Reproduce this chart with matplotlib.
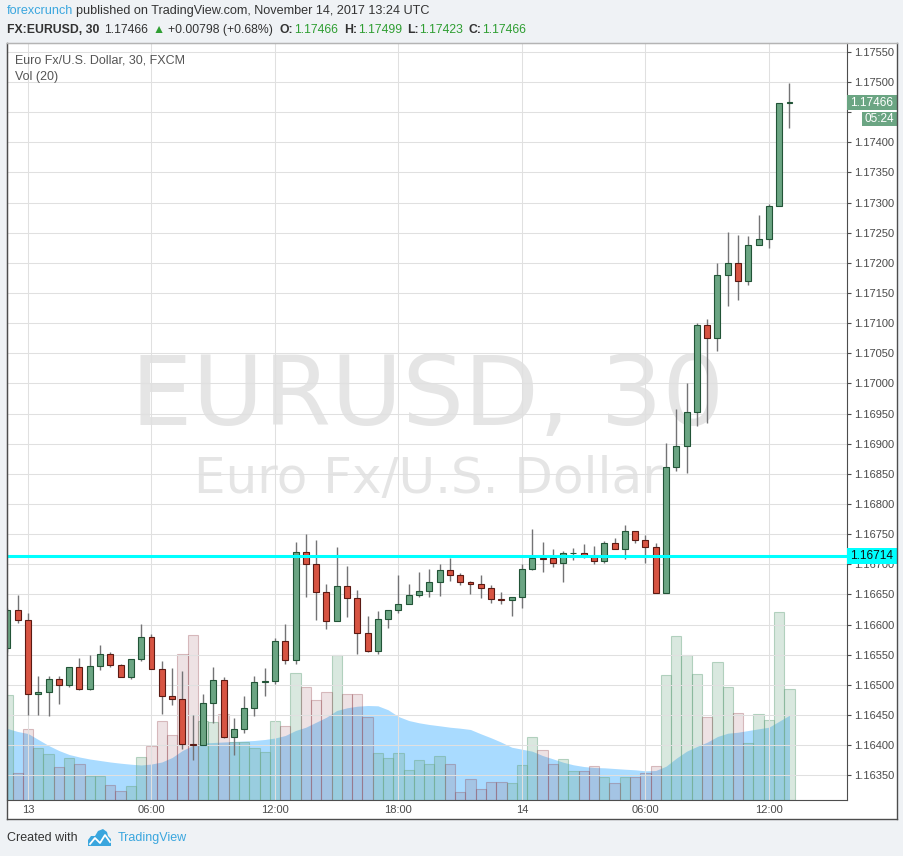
import numpy as np
import matplotlib
matplotlib.use("Agg")
import matplotlib.pyplot as plt
from matplotlib.patches import Rectangle, Polygon
from matplotlib.lines import Line2D
from matplotlib.transforms import blended_transform_factory

plt.rcParams["font.family"] = ["Liberation Sans", "DejaVu Sans"]

# EURUSD 30-minute candles, 12 Nov 23:00 UTC .. 14 Nov 13:00 UTC (FXCM)
opens = [1.16562, 1.16624, 1.16608, 1.16485, 1.16488, 1.16509, 1.16499, 1.16529, 1.16494, 1.16531,
         1.16552, 1.16533, 1.16513, 1.16543, 1.16579, 1.16526, 1.16481, 1.16476, 1.16402, 1.16400,
         1.16470, 1.16508, 1.16413, 1.16427, 1.16461, 1.16504, 1.16506, 1.16572, 1.16541, 1.16721,
         1.16700, 1.16654, 1.16606, 1.16664, 1.16644, 1.16586, 1.16557, 1.16610, 1.16625, 1.16634,
         1.16649, 1.16655, 1.16670, 1.16690, 1.16682, 1.16670, 1.16667, 1.16660, 1.16642, 1.16640,
         1.16645, 1.16692, 1.16710, 1.16710, 1.16703, 1.16718, 1.16719, 1.16713, 1.16705, 1.16735,
         1.16725, 1.16756, 1.16740, 1.16728, 1.16652, 1.16861, 1.16896, 1.16952, 1.17097, 1.17076,
         1.17180, 1.17200, 1.17170, 1.17230, 1.17239, 1.17295, 1.17466]
highs = [1.16628, 1.16649, 1.16619, 1.16515, 1.16515, 1.16515, 1.16529, 1.16545, 1.16550, 1.16566,
         1.16555, 1.16535, 1.16543, 1.16601, 1.16584, 1.16540, 1.16528, 1.16523, 1.16450, 1.16485,
         1.16530, 1.16513, 1.16445, 1.16482, 1.16515, 1.16528, 1.16577, 1.16601, 1.16737, 1.16750,
         1.16741, 1.16667, 1.16729, 1.16697, 1.16657, 1.16615, 1.16622, 1.16625, 1.16682, 1.16667,
         1.16688, 1.16692, 1.16700, 1.16710, 1.16685, 1.16673, 1.16683, 1.16665, 1.16654, 1.16645,
         1.16700, 1.16759, 1.16737, 1.16725, 1.16722, 1.16727, 1.16734, 1.16730, 1.16739, 1.16744,
         1.16765, 1.16756, 1.16749, 1.16736, 1.16902, 1.16957, 1.17000, 1.17100, 1.17107, 1.17199,
         1.17252, 1.17247, 1.17244, 1.17280, 1.17298, 1.17466, 1.17499]
lows = [1.16555, 1.16602, 1.16450, 1.16450, 1.16449, 1.16468, 1.16497, 1.16491, 1.16491, 1.16525,
        1.16529, 1.16513, 1.16509, 1.16540, 1.16526, 1.16452, 1.16466, 1.16394, 1.16375, 1.16400,
        1.16436, 1.16412, 1.16383, 1.16420, 1.16449, 1.16481, 1.16501, 1.16534, 1.16534, 1.16646,
        1.16607, 1.16592, 1.16606, 1.16612, 1.16552, 1.16555, 1.16552, 1.16595, 1.16620, 1.16634,
        1.16646, 1.16645, 1.16648, 1.16673, 1.16665, 1.16650, 1.16644, 1.16636, 1.16635, 1.16615,
        1.16627, 1.16690, 1.16688, 1.16695, 1.16670, 1.16707, 1.16711, 1.16701, 1.16703, 1.16725,
        1.16709, 1.16736, 1.16702, 1.16652, 1.16652, 1.16855, 1.16852, 1.16930, 1.16934, 1.17053,
        1.17128, 1.17139, 1.17164, 1.17230, 1.17225, 1.17295, 1.17423]
closes = [1.16624, 1.16608, 1.16485, 1.16488, 1.16509, 1.16499, 1.16529, 1.16494, 1.16531, 1.16552,
          1.16533, 1.16513, 1.16543, 1.16579, 1.16526, 1.16481, 1.16476, 1.16402, 1.16400, 1.16470,
          1.16508, 1.16413, 1.16427, 1.16461, 1.16504, 1.16506, 1.16572, 1.16541, 1.16721, 1.16700,
          1.16654, 1.16606, 1.16664, 1.16644, 1.16586, 1.16557, 1.16610, 1.16625, 1.16634, 1.16649,
          1.16655, 1.16670, 1.16690, 1.16682, 1.16670, 1.16667, 1.16660, 1.16642, 1.16640, 1.16645,
          1.16692, 1.16710, 1.16709, 1.16703, 1.16718, 1.16719, 1.16713, 1.16705, 1.16735, 1.16725,
          1.16756, 1.16740, 1.16728, 1.16652, 1.16861, 1.16896, 1.16952, 1.17097, 1.17076, 1.17180,
          1.17200, 1.17170, 1.17230, 1.17239, 1.17295, 1.17466, 1.17466]
volumes = [1050, 270, 710, 520, 460, 330, 420, 360, 240, 240,
           150, 90, 140, 430, 540, 790, 650, 1460, 1650, 790,
           780, 860, 580, 580, 520, 480, 790, 740, 1270, 1130,
           1000, 1080, 1450, 1060, 1060, 830, 470, 420, 470, 300,
           400, 360, 440, 360, 80, 210, 110, 180, 180, 170,
           350, 630, 500, 360, 410, 290, 290, 340, 230, 170,
           230, 230, 270, 340, 1250, 1640, 1450, 1260, 830, 1380,
           1130, 870, 570, 860, 800, 1880, 1110]
vol_ma20 = [710, 680, 660, 600, 540, 490, 450, 425, 405, 390,
            375, 363, 353, 345, 355, 375, 420, 490, 540, 565,
            570, 575, 580, 585, 590, 600, 615, 640, 690, 723,
            773, 823, 890, 917, 933, 940, 937, 897, 830, 790,
            767, 750, 737, 723, 713, 700, 657, 617, 573, 523,
            503, 483, 440, 407, 373, 347, 330, 320, 317, 310,
            303, 297, 287, 290, 333, 413, 483, 530, 573, 630,
            663, 673, 690, 707, 723, 783, 843]

time_ticks = [2, 14, 26, 38, 50, 62, 74]
time_labels = ["13", "06:00", "12:00", "18:00", "14", "06:00", "12:00"]
price_ticks = np.round(np.arange(1.1635, 1.17551, 0.0005), 5)
level = 1.16714
countdown = "05:24"

W, H = 904, 856
fig = plt.figure(figsize=(W / 100, H / 100), dpi=100, facecolor="#eff2f5")


def fx(x):
    return x / W


def fy(y):
    return 1 - y / H


# chart box (plot + price scale + time scale)
fig.add_artist(Rectangle((fx(6.7), fy(819)), fx(897) - fx(6.7), fy(42.7) - fy(819),
                         transform=fig.transFigure, facecolor="white", edgecolor="none", zorder=-1))
fig.add_artist(Line2D([fx(6.7), fx(6.7)], [fy(42.7), fy(819)], color="#4d4d4d", lw=1, zorder=5))
fig.add_artist(Line2D([fx(6.7), fx(897)], [fy(819), fy(819)], color="#4d4d4d", lw=1, zorder=5))
fig.add_artist(Line2D([fx(897), fx(897)], [fy(42.7), fy(819)], color="#4d4d4d", lw=1, zorder=5))
fig.add_artist(Line2D([fx(6.7), fx(897)], [fy(42.7), fy(42.7)], color="#b4b4b4", lw=1, zorder=5))

rect = [fx(6.7), fy(799.5), (846.7 - 6.7) / W, (799.5 - 42.7) / H]
xlim = (-0.07, 81.56)
ylim = (1.163099, 1.175652)

idx = np.arange(len(opens))
o = np.array(opens)
hi = np.array(highs)
lo = np.array(lows)
c = np.array(closes)
vol = np.array(volumes)
up = c >= o

# volume pane (overlay, drawn underneath)
ax_v = fig.add_axes(rect, zorder=1)
ax_v.axis("off")
ax_v.set_xlim(*xlim)
ax_v.set_ylim(0, 7568)
ax_v.text(0.501, 0.4948, "EURUSD, 30", transform=ax_v.transAxes, ha="center", va="baseline",
          fontsize=70, color="#e5e5e5", family="DejaVu Sans", zorder=0)
ax_v.text(0.502, 0.405, "Euro Fx/U.S. Dollar", transform=ax_v.transAxes, ha="center", va="baseline",
          fontsize=36, color="#e5e5e5", family="DejaVu Sans", zorder=0)
ax_v.fill_between(idx, 0, vol_ma20, color="#0496ff", alpha=0.34, lw=0, zorder=1)
ax_v.bar(idx[up], vol[up], width=1.0, color=(0.42, 0.65, 0.51, 0.25),
         edgecolor=(0.42, 0.65, 0.51, 0.45), lw=0.8, zorder=2)
ax_v.bar(idx[~up], vol[~up], width=1.0, color=(0.55, 0.22, 0.25, 0.14),
         edgecolor=(0.55, 0.22, 0.25, 0.3), lw=0.8, zorder=2)

# price pane
ax = fig.add_axes(rect, zorder=2)
ax.set_facecolor("none")
ax.set_xlim(*xlim)
ax.set_ylim(*ylim)
ax.grid(True, color="#e0e0e0", lw=0.75, zorder=0)
ax.set_axisbelow(True)
for side in ["left", "bottom", "right"]:
    ax.spines[side].set_color("#4d4d4d")
ax.spines["top"].set_color("#b4b4b4")

last = closes[-1]
ax.yaxis.tick_right()
# the label right under the live price tag is covered by it, as on the screen
ax.set_yticks(price_ticks, ["" if abs(p - 1.1745) < 1e-6 else f"{p:.5f}" for p in price_ticks])
ax.set_xticks(time_ticks, time_labels)
ax.tick_params(axis="y", length=3, width=0.8, color="#4d4d4d", labelsize=8, labelcolor="#4a4a4a", pad=2)
ax.tick_params(axis="x", length=0, labelsize=8, labelcolor="#4a4a4a", pad=4)

# candles
ax.vlines(idx, lo, hi, color="#737375", lw=1, zorder=3)
body_lo = np.minimum(o, c)
body_h = np.maximum(np.abs(c - o), 0.000004)
ax.bar(idx[up], body_h[up], bottom=body_lo[up], width=0.58, color="#6ba583",
       edgecolor="#225437", lw=0.8, zorder=4)
ax.bar(idx[~up], body_h[~up], bottom=body_lo[~up], width=0.58, color="#d75442",
       edgecolor="#5b1a13", lw=0.8, zorder=4)

# horizontal level
ax.axhline(level, color="#00ffff", lw=2.2, zorder=5)

# price scale labels
trans = blended_transform_factory(ax.transAxes, ax.transData)
ppx = (ylim[1] - ylim[0]) / 756.8
box_w = (897 - 846.7) / 840
ax.add_patch(Rectangle((1.0, last - 7.5 * ppx), box_w, 15 * ppx, transform=trans,
                       facecolor="#6ba583", edgecolor="none", clip_on=False, zorder=6))
ax.text(1.0 + box_w / 2, last, f"{last:.5f}", transform=trans, ha="center", va="center",
        color="white", fontsize=8.5, clip_on=False, zorder=7)
cd_x = (862 - 6.7) / 840
ax.add_patch(Rectangle((cd_x, last - 23.5 * ppx), 1.0 + box_w - cd_x, 14 * ppx, transform=trans,
                       facecolor="#6ba583", edgecolor="none", clip_on=False, zorder=6))
ax.text((cd_x + 1.0 + box_w) / 2, last - 16.5 * ppx, countdown, transform=trans, ha="center",
        va="center", color="white", fontsize=8.5, clip_on=False, zorder=7)
ax.add_patch(Rectangle((1.0, level - 8 * ppx), box_w, 16 * ppx, transform=trans,
                       facecolor="#00ffff", edgecolor="none", clip_on=False, zorder=6))
ax.text(1.0 + box_w / 2, level, f"{level:.5f}", transform=trans, ha="center", va="center",
        color="#111111", fontsize=8.5, clip_on=False, zorder=7)

# legend texts
ax.text(0.0099, 0.977, "Euro Fx/U.S. Dollar, 30, FXCM", transform=ax.transAxes, ha="left",
        va="center", fontsize=9, color="#555555")
ax.text(0.0099, 0.955, "Vol (20)", transform=ax.transAxes, ha="left", va="center",
        fontsize=9, color="#555555")

# header
renderer = fig.canvas.get_renderer()


def draw_run(x, y, pieces, size):
    for text, color, weight, gap in pieces:
        t = fig.text(fx(x), fy(y), text, color=color, fontsize=size, fontweight=weight,
                     ha="left", va="center")
        x += t.get_window_extent(renderer).width + gap


blue = "#3aa6de"
green = "#2f9e32"
dark = "#333333"
draw_run(7, 11, [("forexcrunch", blue, "normal", 3),
                 ("published on TradingView.com, November 14, 2017 13:24 UTC", dark, "normal", 0)], 9.1)
draw_run(7, 30, [("FX:EURUSD, 30", dark, "bold", 5),
                 ("1.17466", dark, "normal", 4),
                 ("\u25b2", green, "normal", 4),
                 ("+0.00798 (+0.68%)", dark, "normal", 6),
                 ("O:", dark, "bold", 1), ("1.17466", green, "normal", 6),
                 ("H:", dark, "bold", 1), ("1.17499", green, "normal", 5),
                 ("L:", dark, "bold", 1), ("1.17423", green, "normal", 5),
                 ("C:", dark, "bold", 1), ("1.17466", green, "normal", 0)], 8.8)

# footer
fig.text(fx(7), fy(838), "Created with", color=dark, fontsize=9, ha="left", va="center")
logo = [(88, 846), (88, 840), (91, 836), (95, 836), (98, 831), (103, 829), (107, 832),
        (108, 836), (111, 839), (111, 846)]
fig.add_artist(Polygon([(fx(x), fy(y)) for x, y in logo], closed=True, transform=fig.transFigure,
                       facecolor=blue, edgecolor="none"))
zig = [(90, 844), (95, 838), (100, 843), (105, 835), (110, 842)]
fig.add_artist(Line2D([fx(x) for x, y in zig], [fy(y) for x, y in zig], color="white", lw=1.3))
fig.text(fx(118), fy(838), "TradingView", color=blue, fontsize=9, ha="left", va="center")

fig.savefig("out.png", dpi=100, facecolor=fig.get_facecolor())
